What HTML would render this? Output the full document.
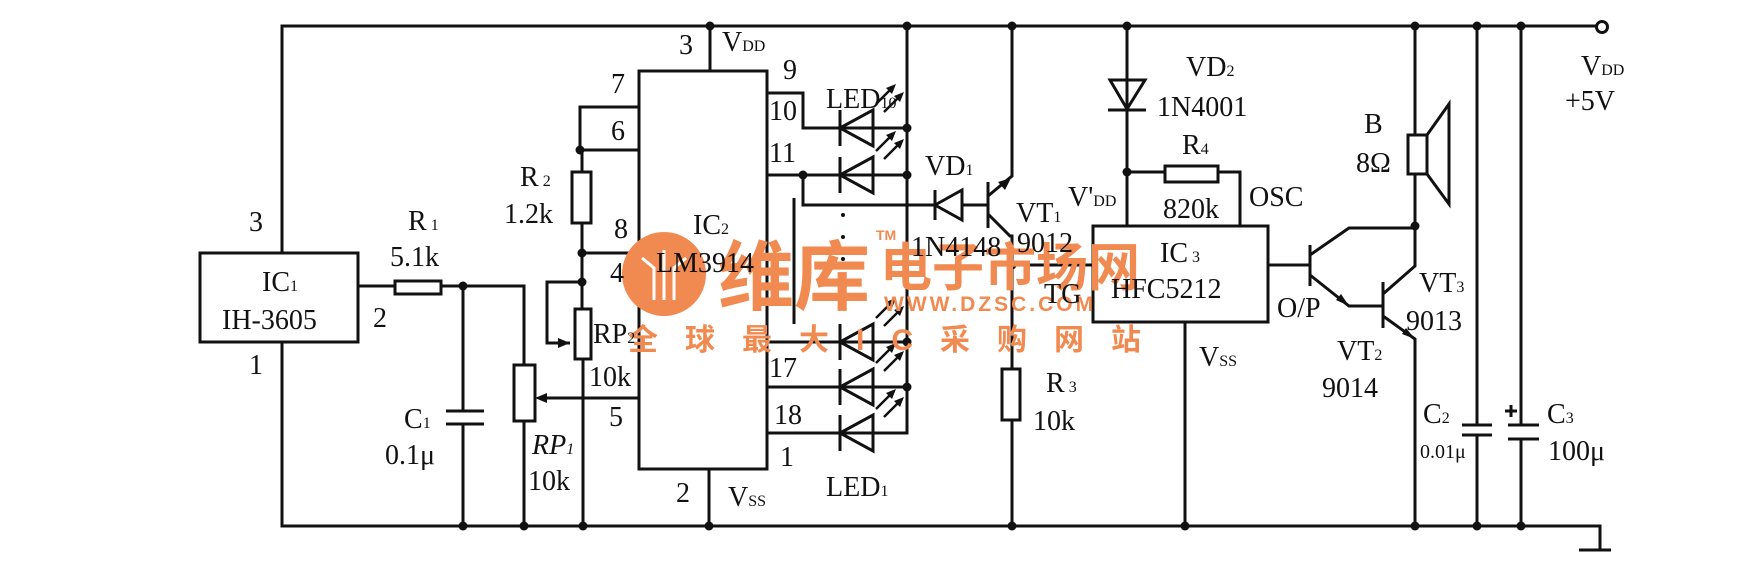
<!DOCTYPE html>
<html><head><meta charset="utf-8"><style>
html,body{margin:0;padding:0;background:#fff;}
svg{display:block}
text{font-family:"Liberation Serif",serif;fill:#111;}
.w{font-family:"Liberation Sans","Noto Sans CJK SC",sans-serif;fill:#f08a50;font-weight:bold;}
</style></head><body>
<svg width="1749" height="581" viewBox="0 0 1749 581" xmlns="http://www.w3.org/2000/svg">
<defs>
<g id="led"><polygon points="840,0 873,-18 873,18" fill="none" stroke="#111" stroke-width="3"/><line x1="840" y1="-18" x2="840" y2="18" stroke="#111" stroke-width="3"/>
<line x1="876" y1="-24" x2="892" y2="-40" stroke="#111" stroke-width="2.5"/><polygon points="896,-44 886,-40 892,-34" fill="#111"/>
<line x1="884" y1="-16" x2="900" y2="-32" stroke="#111" stroke-width="2.5"/><polygon points="904,-36 894,-32 900,-26" fill="#111"/></g>
</defs>
<g stroke="#111" stroke-width="3" fill="none">
<polyline points="282,253 282,26 1596,26"/>
<polyline points="282,342 282,526 1600,526 1600,550"/>
<line x1="1579" y1="550" x2="1611" y2="550"/>
<circle cx="1602" cy="27" r="5.5" fill="#fff"/>
<rect x="200" y="253" width="158" height="89"/>
<line x1="358" y1="286" x2="395" y2="286"/><rect x="395" y="281" width="46" height="13"/>
<polyline points="441,286 524,286 524,365"/>
<rect x="514" y="365" width="21" height="56"/><line x1="524" y1="421" x2="524" y2="526"/>
<polyline points="463,286 463,411"/><line x1="446" y1="411" x2="484" y2="411"/><line x1="446" y1="424" x2="484" y2="424"/><line x1="463" y1="424" x2="463" y2="526"/>
<polyline points="639,107 580,107 580,150 639,150"/>
<line x1="582" y1="150" x2="582" y2="172"/><rect x="572" y="172" width="19" height="51"/>
<line x1="582" y1="223" x2="582" y2="309"/><line x1="582" y1="253" x2="639" y2="253"/>
<polyline points="582,282 547,282 547,343 570,343"/>
<rect x="575" y="309" width="16" height="50"/><line x1="583" y1="359" x2="583" y2="526"/>
<line x1="545" y1="398" x2="639" y2="398"/>
<rect x="639" y="71" width="128" height="398"/>
<line x1="710" y1="26" x2="710" y2="71"/><line x1="709" y1="469" x2="709" y2="526"/>
<polyline points="767,93 803,93 803,128 907,128"/>
<line x1="767" y1="175" x2="907" y2="175"/>
<polyline points="803,175 803,205 935,205"/>
<line x1="794" y1="198" x2="794" y2="324"/>
<line x1="767" y1="342" x2="907" y2="342"/>
<line x1="767" y1="387" x2="907" y2="387"/>
<polyline points="767,433 907,433 907,26"/>
<polygon points="935,205 962,190 962,220"/><line x1="935" y1="190" x2="935" y2="220"/>
<line x1="962" y1="205" x2="988" y2="205"/>
<line x1="988" y1="182" x2="988" y2="228"/>
<polyline points="988,196 1012,176 1012,26"/>
<polyline points="988,214 1010,236 1012,236 1012,369"/>
<rect x="1002" y="369" width="18" height="51"/><line x1="1012" y1="420" x2="1012" y2="526"/>
<line x1="1012" y1="265" x2="1093" y2="265"/>
<line x1="1127" y1="26" x2="1127" y2="226"/>
<polygon points="1110,80 1145,80 1127,109"/><line x1="1108" y1="110" x2="1146" y2="110"/>
<line x1="1127" y1="172" x2="1165" y2="172"/><rect x="1165" y="166" width="53" height="16"/>
<polyline points="1218,172 1240,172 1240,226"/>
<rect x="1093" y="226" width="175" height="96"/>
<line x1="1185" y1="322" x2="1185" y2="526"/>
<line x1="1268" y1="265" x2="1310" y2="265"/>
<line x1="1310" y1="245" x2="1310" y2="286"/>
<polyline points="1310,255 1349,228 1415,228"/>
<polyline points="1310,275 1349,306 1383,306"/>
<line x1="1383" y1="282" x2="1383" y2="328"/>
<polyline points="1383,294 1415,266 1415,26"/>
<polyline points="1383,316 1415,339 1415,526"/>
<rect x="1408" y="135" width="19" height="39" fill="#fff"/>
<polyline points="1427,135 1449,104 1449,204 1427,174"/>
<line x1="1477" y1="26" x2="1477" y2="425"/><line x1="1462" y1="425" x2="1492" y2="425"/><line x1="1462" y1="435" x2="1492" y2="435"/><line x1="1477" y1="435" x2="1477" y2="526"/>
<line x1="1521" y1="26" x2="1521" y2="425"/><line x1="1508" y1="425" x2="1539" y2="425"/><line x1="1508" y1="439" x2="1539" y2="439"/><line x1="1521" y1="439" x2="1521" y2="526"/>
<line x1="1505" y1="411" x2="1517" y2="411"/><line x1="1511" y1="405" x2="1511" y2="417"/>
</g>
<g fill="#111">
<polygon points="570,343 558,338 558,348"/><polygon points="535,398 547,393 547,403"/>
<polygon points="1011,178 998,182 1005,190"/><polygon points="1349,306 1336,300 1341,294"/><polygon points="1415,339 1402,334 1406,328"/>
<circle cx="463" cy="286" r="4.5"/><circle cx="463" cy="526" r="4.5"/><circle cx="524" cy="526" r="4.5"/><circle cx="583" cy="526" r="4.5"/><circle cx="709" cy="526" r="4.5"/>
<circle cx="580" cy="150" r="4.5"/><circle cx="582" cy="253" r="4.5"/><circle cx="582" cy="282" r="4.5"/>
<circle cx="710" cy="26" r="4.5"/><circle cx="907" cy="26" r="4.5"/><circle cx="1012" cy="26" r="4.5"/><circle cx="1127" cy="26" r="4.5"/><circle cx="1415" cy="26" r="4.5"/><circle cx="1477" cy="26" r="4.5"/><circle cx="1521" cy="26" r="4.5"/>
<circle cx="803" cy="175" r="4.5"/><circle cx="907" cy="128" r="4.5"/><circle cx="907" cy="175" r="4.5"/><circle cx="907" cy="342" r="4.5"/><circle cx="907" cy="387" r="4.5"/>
<circle cx="1012" cy="265" r="4.5"/><circle cx="1127" cy="172" r="4.5"/><circle cx="1415" cy="226" r="4.5"/>
<circle cx="1012" cy="526" r="4.5"/><circle cx="1185" cy="526" r="4.5"/><circle cx="1415" cy="526" r="4.5"/><circle cx="1477" cy="526" r="4.5"/><circle cx="1521" cy="526" r="4.5"/>
<circle cx="843" cy="215" r="2"/><circle cx="843" cy="237" r="2"/><circle cx="843" cy="259" r="2"/><circle cx="843" cy="283" r="2"/><circle cx="843" cy="304" r="2"/>
</g>
<use href="#led" y="128"/><use href="#led" y="175"/><use href="#led" y="342"/><use href="#led" y="387"/><use href="#led" y="433"/>
<circle cx="664" cy="274" r="42" fill="#f08a50"/>
<g stroke="#fff" stroke-width="3" fill="none"><path d="M664,300 V250 M654,300 V268 L642,258 M674,300 V268 L686,258"/></g>
<text class="w" x="718" y="304" font-size="76">维库</text>
<text class="w" x="880" y="286" font-size="52">电子市场网</text>
<text class="w" x="876" y="240" font-size="14">TM</text>
<text class="w" x="884" y="311" font-size="21" letter-spacing="3">WWW.DZSC.COM</text>
<text class="w" x="628" y="350" font-size="30" font-weight="normal" letter-spacing="27">全球最大IC采购网站</text>
<g font-size="28">
<text x="249" y="231">3</text><text x="373" y="327">2</text><text x="249" y="374">1</text>
<text x="262" y="291">IC<tspan font-size="16">1</tspan></text><text x="222" y="329">IH-3605</text>
<text x="408" y="230">R<tspan font-size="16"> 1</tspan></text><text x="390" y="266">5.1k</text>
<text x="404" y="428">C<tspan font-size="16">1</tspan></text><text x="385" y="464">0.1μ</text>
<text x="532" y="454" font-style="italic">RP<tspan font-size="16">1</tspan></text><text x="528" y="490">10k</text>
<text x="520" y="186">R<tspan font-size="16"> 2</tspan></text><text x="504" y="223">1.2k</text>
<text x="593" y="343">RP<tspan font-size="16">2</tspan></text><text x="589" y="386">10k</text>
<text x="611" y="93">7</text><text x="611" y="140">6</text><text x="614" y="238">8</text><text x="610" y="282">4</text><text x="609" y="426">5</text>
<text x="679" y="54">3</text><text x="722" y="51">V<tspan font-size="16">DD</tspan></text>
<text x="676" y="502">2</text><text x="728" y="506">V<tspan font-size="16">SS</tspan></text>
<text x="693" y="234">IC<tspan font-size="16">2</tspan></text><text x="656" y="272">LM3914</text>
<text x="783" y="79">9</text><text x="769" y="120">10</text><text x="769" y="162">11</text><text x="769" y="377">17</text><text x="774" y="424">18</text><text x="780" y="466">1</text>
<text x="826" y="108">LED<tspan font-size="16">10</tspan></text><text x="826" y="496">LED<tspan font-size="16">1</tspan></text>
<text x="925" y="175">VD<tspan font-size="16">1</tspan></text>
<text x="1016" y="222">VT<tspan font-size="16">1</tspan></text><text x="1017" y="252">9012</text><text x="911" y="256">1N4148</text>
<text x="1068" y="206">V'<tspan font-size="16">DD</tspan></text>
<text x="1044" y="303">TG</text>
<text x="1046" y="392">R<tspan font-size="16"> 3</tspan></text><text x="1033" y="430">10k</text>
<text x="1186" y="76">VD<tspan font-size="16">2</tspan></text><text x="1157" y="116">1N4001</text>
<text x="1182" y="154">R<tspan font-size="16">4</tspan></text><text x="1163" y="218">820k</text><text x="1249" y="206">OSC</text>
<text x="1160" y="262">IC<tspan font-size="16"> 3</tspan></text><text x="1111" y="298">HFC5212</text>
<text x="1199" y="366">V<tspan font-size="16">SS</tspan></text>
<text x="1277" y="317">O/P</text>
<text x="1337" y="360">VT<tspan font-size="16">2</tspan></text><text x="1322" y="397">9014</text>
<text x="1419" y="292">VT<tspan font-size="16">3</tspan></text><text x="1406" y="330">9013</text>
<text x="1364" y="133">B</text><text x="1356" y="172">8Ω</text>
<text x="1423" y="423">C<tspan font-size="16">2</tspan></text>
<text x="1547" y="423">C<tspan font-size="16">3</tspan></text><text x="1548" y="460">100μ</text>
<text x="1581" y="75">V<tspan font-size="16">DD</tspan></text><text x="1565" y="110">+5V</text>
</g>
<text x="1420" y="458" font-size="20">0.01μ</text>
</svg>
</body></html>
